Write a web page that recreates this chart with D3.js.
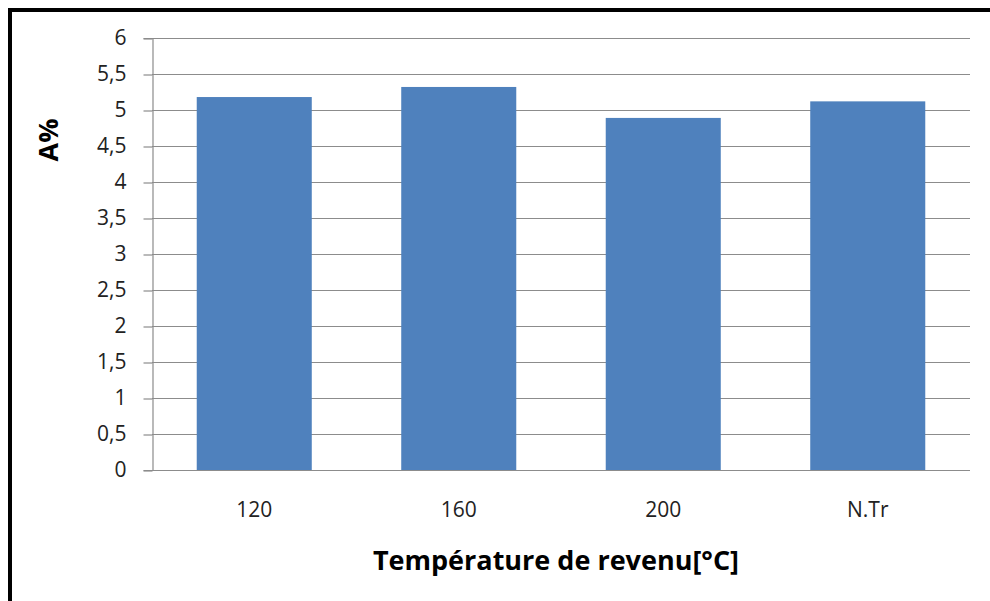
<!DOCTYPE html>
<html>
<head>
<meta charset="utf-8">
<script src="https://cdn.jsdelivr.net/npm/d3@7"></script>
<style>
  html, body { margin: 0; padding: 0; background: #fff; }
  svg { display: block; font-family: "Open Sans", "Noto Sans", sans-serif; }
</style>
</head>
<body>
<svg id="chart" width="990" height="601"></svg>
<script>
// Tempering temperature categories and elongation A% values
const categories = ["120", "160", "200", "N.Tr"];
const values = [5.18, 5.32, 4.89, 5.12];
const yTicks = [0, 0.5, 1, 1.5, 2, 2.5, 3, 3.5, 4, 4.5, 5, 5.5, 6];
const xTitle = "Température de revenu[°C]";
const yTitle = "A%";

const svg = d3.select("#chart");
const W = 990, H = 601;
const plot = { left: 152, right: 970, top: 38, bottom: 470 };

// outer frame (top and left edges visible)
svg.append("rect")
  .attr("x", 10).attr("y", 10)
  .attr("width", W + 20).attr("height", H + 20)
  .attr("fill", "#fff").attr("stroke", "#000").attr("stroke-width", 4);

const x = d3.scaleBand()
  .domain(categories)
  .range([plot.left, plot.right])
  .paddingInner(0.4375)
  .paddingOuter(0.21875);

const y = d3.scaleLinear().domain([0, 6]).range([plot.bottom, plot.top]);

const fmt = v => String(v).replace(".", ",");

// horizontal gridlines
svg.append("g")
  .selectAll("line")
  .data(yTicks.filter(t => t > 0))
  .join("line")
  .attr("x1", plot.left).attr("x2", plot.right)
  .attr("y1", d => y(d) + 0.5).attr("y2", d => y(d) + 0.5)
  .attr("stroke", "#8c8c8c").attr("stroke-width", 1.2);

// y axis
const yAxis = svg.append("g")
  .attr("transform", `translate(${plot.left + 0.5},0)`)
  .call(d3.axisLeft(y).tickValues(yTicks).tickFormat(fmt).tickSize(9).tickPadding(17));
yAxis.select(".domain").attr("stroke", "#8c8c8c").attr("stroke-width", 1.2);
yAxis.selectAll(".tick line").attr("stroke", "#8c8c8c").attr("stroke-width", 1.2)
  .attr("transform", "translate(0,0.5)");
yAxis.selectAll(".tick text")
  .attr("font-size", 21).attr("fill", "#222")
  .attr("font-family", "Open Sans, sans-serif");

// bars
svg.append("g")
  .selectAll("rect")
  .data(categories.map((c, i) => ({ c, v: values[i] })))
  .join("rect")
  .attr("x", d => x(d.c))
  .attr("y", d => y(d.v))
  .attr("width", x.bandwidth())
  .attr("height", d => y(0) - y(d.v))
  .attr("fill", "#4f81bd");

// x axis baseline
svg.append("line")
  .attr("x1", plot.left).attr("x2", plot.right)
  .attr("y1", y(0) + 0.5).attr("y2", y(0) + 0.5)
  .attr("stroke", "#8c8c8c").attr("stroke-width", 1.2);

// category labels
svg.append("g")
  .selectAll("text")
  .data(categories)
  .join("text")
  .attr("x", d => x(d) + x.bandwidth() / 2)
  .attr("y", 517)
  .attr("text-anchor", "middle")
  .attr("font-size", 21).attr("fill", "#222")
  .text(d => d);

// axis titles
svg.append("text")
  .attr("x", 556).attr("y", 570)
  .attr("text-anchor", "middle")
  .attr("font-size", 27).attr("font-weight", "bold").attr("fill", "#000")
  .text(xTitle);

svg.append("text")
  .attr("transform", "translate(58,140) rotate(-90)")
  .attr("text-anchor", "middle")
  .attr("font-size", 27).attr("font-weight", "bold").attr("fill", "#000")
  .text(yTitle);
</script>
</body>
</html>
